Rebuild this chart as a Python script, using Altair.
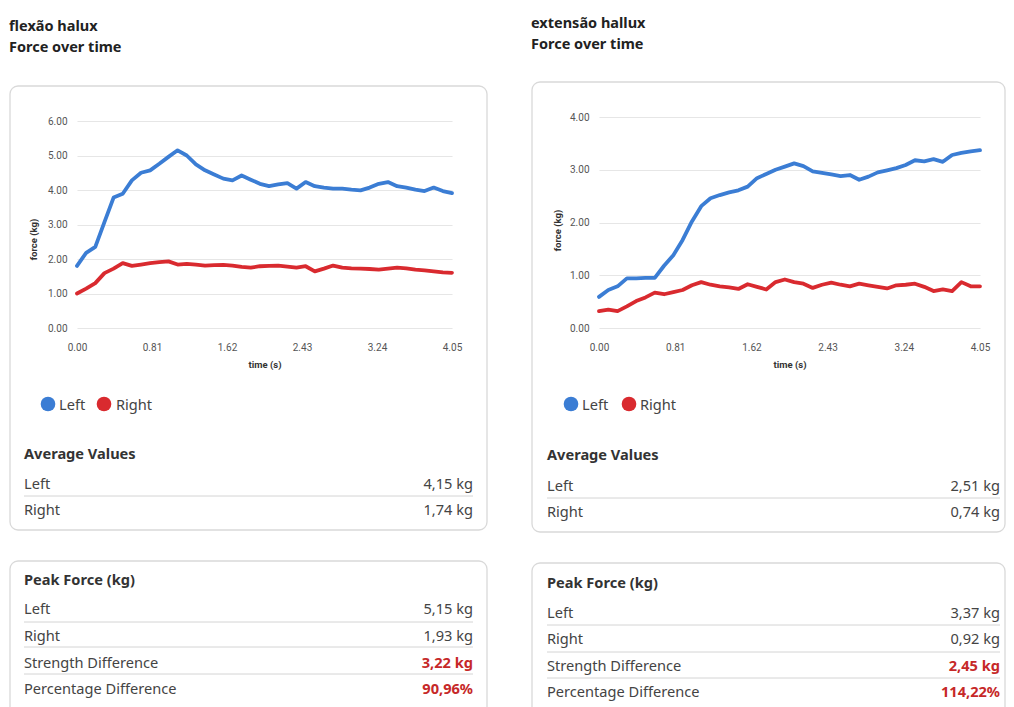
import altair as alt
import pandas as pd

# ---------------- data ----------------
TIME = [0.0, 0.0988, 0.1976, 0.2963, 0.3951, 0.4939, 0.5927, 0.6915, 0.7902, 0.889,
        0.9878, 1.0866, 1.1854, 1.2841, 1.3829, 1.4817, 1.5805, 1.6793, 1.778, 1.8768,
        1.9756, 2.0744, 2.1732, 2.272, 2.3707, 2.4695, 2.5683, 2.6671, 2.7659, 2.8646,
        2.9634, 3.0622, 3.161, 3.2598, 3.3585, 3.4573, 3.5561, 3.6549, 3.7537, 3.8524,
        3.9512, 4.05]

FLEX_LEFT = [1.80, 2.18, 2.35, 3.07, 3.78, 3.89, 4.28, 4.50, 4.57, 4.76,
             4.96, 5.15, 5.00, 4.74, 4.57, 4.45, 4.33, 4.28, 4.42, 4.30,
             4.18, 4.11, 4.16, 4.20, 4.04, 4.23, 4.11, 4.07, 4.04, 4.04,
             4.01, 3.99, 4.07, 4.18, 4.23, 4.11, 4.07, 4.01, 3.97, 4.07,
             3.97, 3.91]
FLEX_RIGHT = [1.00, 1.14, 1.30, 1.59, 1.72, 1.88, 1.80, 1.84, 1.88, 1.91,
              1.93, 1.84, 1.86, 1.84, 1.81, 1.82, 1.83, 1.81, 1.77, 1.75,
              1.79, 1.80, 1.81, 1.78, 1.75, 1.79, 1.64, 1.72, 1.81, 1.75,
              1.73, 1.72, 1.71, 1.69, 1.72, 1.75, 1.73, 1.69, 1.67, 1.64,
              1.61, 1.60]
EXT_LEFT = [0.59, 0.72, 0.79, 0.94, 0.94, 0.95, 0.95, 1.18, 1.38, 1.67,
            2.02, 2.31, 2.46, 2.52, 2.57, 2.61, 2.68, 2.84, 2.92, 3.00,
            3.06, 3.12, 3.07, 2.97, 2.94, 2.91, 2.88, 2.90, 2.81, 2.87,
            2.95, 2.99, 3.03, 3.09, 3.18, 3.16, 3.20, 3.15, 3.28, 3.32,
            3.35, 3.37]
EXT_RIGHT = [0.32, 0.35, 0.32, 0.41, 0.51, 0.58, 0.67, 0.64, 0.68, 0.72,
             0.81, 0.87, 0.82, 0.79, 0.77, 0.74, 0.83, 0.78, 0.73, 0.87,
             0.92, 0.87, 0.84, 0.76, 0.82, 0.86, 0.82, 0.79, 0.84, 0.81,
             0.78, 0.75, 0.81, 0.82, 0.84, 0.78, 0.70, 0.73, 0.70, 0.87,
             0.79, 0.79]

TITLES = ["flexão halux", "extensão hallux"]
SUBTITLE = "Force over time"
SIDES = ["Left", "Right"]
X_TICKS = [0, 0.81, 1.62, 2.43, 3.24, 4.05]
FLEX_Y_TICKS = [0, 1, 2, 3, 4, 5, 6]
EXT_Y_TICKS = [0, 1, 2, 3, 4]
AVG_HEADER = "Average Values"
FLEX_AVG = ["4,15 kg", "1,74 kg"]
EXT_AVG = ["2,51 kg", "0,74 kg"]
PEAK_HEADER = "Peak Force (kg)"
PEAK_LABELS = ["Left", "Right", "Strength Difference", "Percentage Difference"]
FLEX_PEAK = ["5,15 kg", "1,93 kg", "3,22 kg", "90,96%"]
EXT_PEAK = ["3,37 kg", "0,92 kg", "2,45 kg", "114,22%"]

# ---------------- style ----------------
W, H = 998, 699
BLUE = "#3b7dd4"
RED = "#d92a2f"
FONT = "Noto Sans"
AXFONT = "Roboto"
TXT = "#444444"
DARK = "#222222"
VRED = "#c62828"
PLOT_BOTTOM = 320
FS = 14.6

one = pd.DataFrame({"_": [0]})


def txt(s, x, y, size=FS, weight="normal", color=TXT, align="left"):
    return alt.Chart(one).mark_text(
        text=s, font=FONT, fontSize=size, fontWeight=weight, color=color,
        align=align, baseline="middle", dy=1.8
    ).encode(x=alt.value(x), y=alt.value(y))


def card(x1, y1, x2, y2):
    return alt.Chart(one).mark_rect(
        fill="white", fillOpacity=0, stroke="#d9d9d9", strokeWidth=1.3, cornerRadius=8
    ).encode(x=alt.value(x1), x2=alt.value(x2), y=alt.value(y1), y2=alt.value(y2))


def sep(x1, x2, y):
    return alt.Chart(one).mark_rule(color="#d4d4d4", strokeWidth=1).encode(
        x=alt.value(x1), x2=alt.value(x2), y=alt.value(y))


def dot(x, y, color):
    return alt.Chart(one).mark_circle(size=215, opacity=1, color=color).encode(
        x=alt.value(x), y=alt.value(y))


def lines(left_vals, right_vals, ymax, yticks, x0, x1, y_top, ttl_x, ttl_y):
    df = pd.DataFrame({
        "time": TIME + TIME,
        "force": left_vals + right_vals,
        "side": [SIDES[0]] * len(TIME) + [SIDES[1]] * len(TIME),
    })
    return alt.Chart(df).mark_line(strokeWidth=3.8, strokeJoin="round", strokeCap="round").encode(
        x=alt.X("time:Q",
                scale=alt.Scale(domain=[0, 4.05], range=[x0, x1], nice=False, zero=False),
                axis=alt.Axis(orient="bottom", offset=PLOT_BOTTOM - H, values=X_TICKS,
                              format=".2f", grid=False, domain=False, ticks=False,
                              labelPadding=14.5, labelFlush=False, labelFont=AXFONT,
                              labelFontSize=10, labelColor="#555555",
                              title="time (s)", titleFont=AXFONT, titleFontSize=9.5,
                              titleFontWeight="bold", titleColor="#333333", titlePadding=7)),
        y=alt.Y("force:Q",
                scale=alt.Scale(domain=[0, ymax], range=[PLOT_BOTTOM, y_top], nice=False),
                axis=alt.Axis(orient="left", offset=-x0, values=yticks, format=".2f",
                              grid=True, gridColor="#e6e6e6", gridWidth=1.2,
                              domain=False, ticks=False, labelPadding=10,
                              labelFont=AXFONT, labelFontSize=10, labelColor="#555555",
                              title="force (kg)", titleFont=AXFONT, titleFontSize=9.5,
                              titleFontWeight="bold", titleColor="#333333",
                              titleX=ttl_x, titleY=ttl_y, titleAlign="center",
                              titleBaseline="middle")),
        color=alt.Color("side:N", scale=alt.Scale(domain=SIDES, range=[BLUE, RED]), legend=None),
    )


layers = []
# cards
layers += [card(2, 78, 479, 522), card(2, 553, 479, 760),
           card(524, 74, 997, 524), card(524, 555, 997, 760)]

# line charts
layers.append(lines(FLEX_LEFT, FLEX_RIGHT, 6, FLEX_Y_TICKS, 69, 444, 113, -44, 231))
layers.append(lines(EXT_LEFT, EXT_RIGHT, 4, EXT_Y_TICKS, 591, 972, 109, -42, 222))

# titles
layers += [txt(TITLES[0], 1, 17.5, size=14.5, weight="bold", color=DARK),
           txt(SUBTITLE, 1, 38.5, size=14.5, weight="bold", color=DARK),
           txt(TITLES[1], 523, 14, size=14.5, weight="bold", color=DARK),
           txt(SUBTITLE, 523, 35, size=14.5, weight="bold", color=DARK)]

# legends
layers += [dot(40, 396, BLUE), txt(SIDES[0], 51, 396),
           dot(96, 396, RED), txt(SIDES[1], 108, 396),
           dot(563, 396, BLUE), txt(SIDES[0], 574, 396),
           dot(621, 396, RED), txt(SIDES[1], 632, 396)]


def tables(lx, rx, avg_vals, avg_y, peak_vals, peak_y, seps_avg, seps_peak):
    out = [txt(AVG_HEADER, lx, avg_y[0], weight="bold", color="#333333")]
    for i, side in enumerate(SIDES):
        out.append(txt(side, lx, avg_y[i + 1]))
        out.append(txt(avg_vals[i], rx, avg_y[i + 1], align="right"))
    for s in seps_avg:
        out.append(sep(lx, rx, s))
    out.append(txt(PEAK_HEADER, lx, peak_y[0], weight="bold", color="#333333"))
    for i, lab in enumerate(PEAK_LABELS):
        out.append(txt(lab, lx, peak_y[i + 1]))
        hi = i >= 2
        out.append(txt(peak_vals[i], rx, peak_y[i + 1], align="right",
                       weight="bold" if hi else "normal", color=VRED if hi else TXT))
    for s in seps_peak:
        out.append(sep(lx, rx, s))
    return out


layers += tables(16, 465, FLEX_AVG, [445, 475, 501], FLEX_PEAK,
                 [571, 600, 627, 654, 680], [488], [614, 639, 666])
layers += tables(539, 992, EXT_AVG, [446, 477, 503], EXT_PEAK,
                 [574, 604, 630, 657, 683], [490], [617, 644, 670])

chart = alt.layer(*layers).resolve_scale(
    x="independent", y="independent"
).resolve_axis(
    x="independent", y="independent"
).properties(
    width=W, height=H, autosize=alt.AutoSizeParams(type="none"), padding=0,
    background="white"
).configure_view(stroke=None)

chart.save("out.html", embed_options={"renderer": "svg", "actions": False})
